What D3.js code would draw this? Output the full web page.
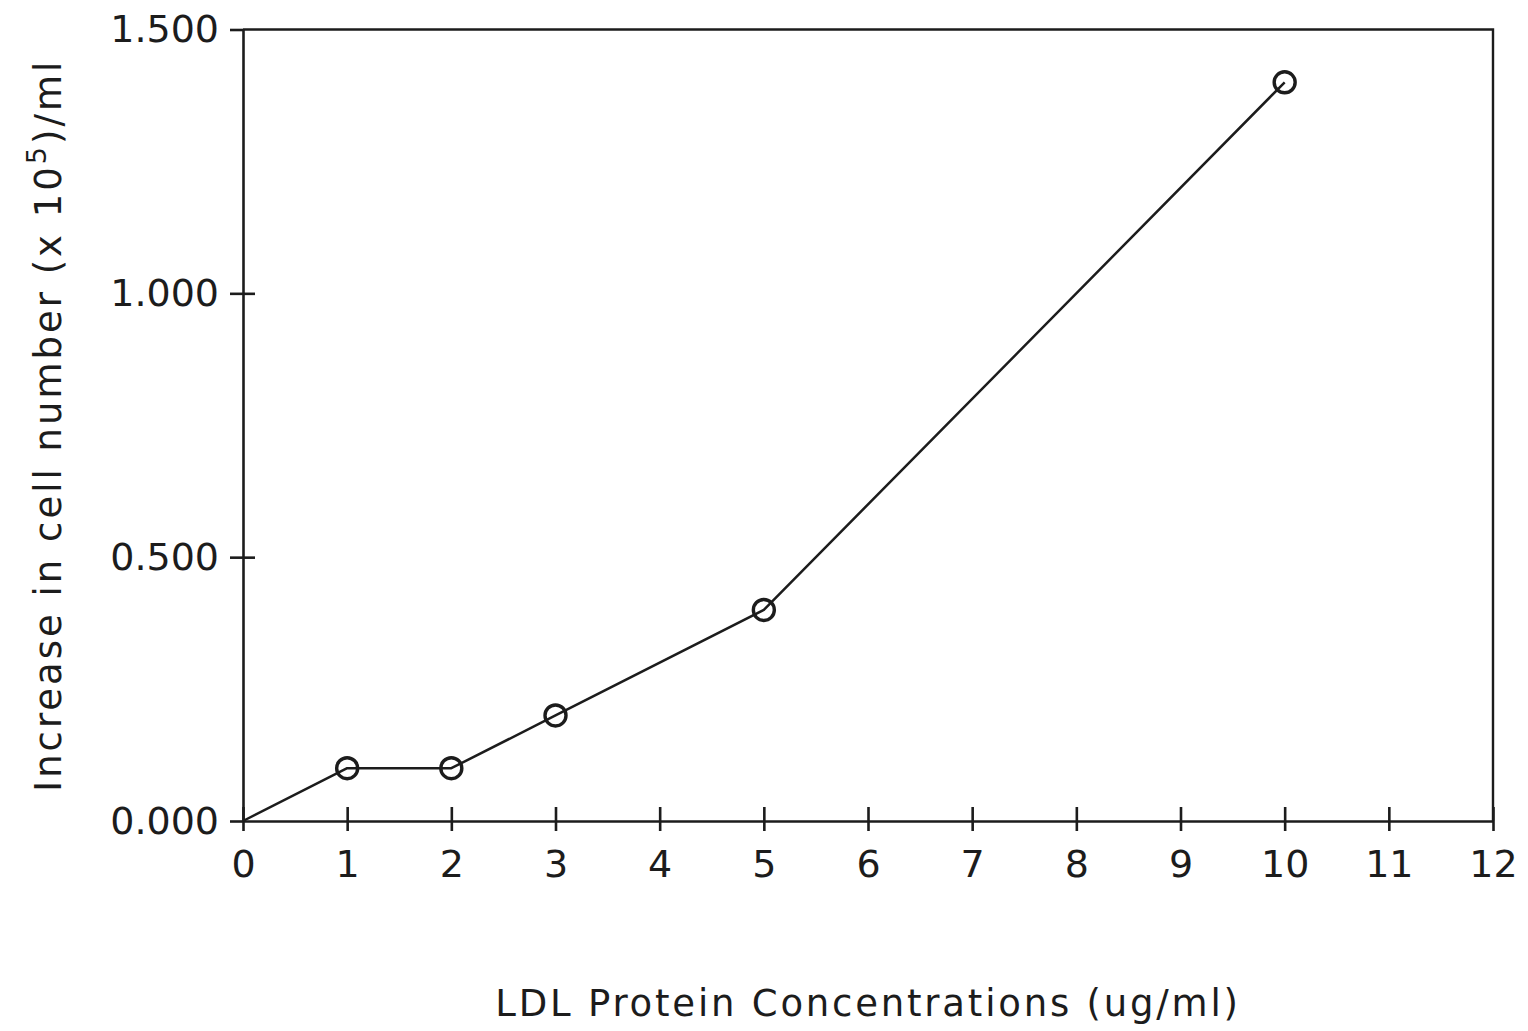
<!DOCTYPE html>
<html>
<head>
<meta charset="utf-8">
<script src="https://cdn.jsdelivr.net/npm/d3@7"></script>
<style>
  html, body { margin: 0; padding: 0; background: #fff; }
  svg { display: block; }
  text { font-family: "DejaVu Sans", sans-serif; fill: #1c1c1c; }
</style>
</head>
<body>
<script>
// LDL protein concentration (ug/ml) and the measured increase in cell number (x 10^5 per ml)
const concentrations = [0, 1, 2, 3, 5, 10];
const cellIncrease = [0, 0.10, 0.10, 0.20, 0.40, 1.40];
const xTickValues = [0, 1, 2, 3, 4, 5, 6, 7, 8, 9, 10, 11, 12];
const yTickValues = [0, 0.5, 1.0, 1.5];
const xTitle = "LDL Protein Concentrations (ug/ml)";

const W = 1528, H = 1031;
const margin = { left: 243, right: 35, top: 29.5, bottom: 210 };
const ink = "#1c1c1c";

const svg = d3.select("body").append("svg")
  .attr("width", W).attr("height", H);
svg.append("rect").attr("width", W).attr("height", H).attr("fill", "#fff");

const x = d3.scaleLinear().domain([0, 12]).range([margin.left, W - margin.right]);
const y = d3.scaleLinear().domain([0, 1.5]).range([H - margin.bottom, margin.top]);

const points = concentrations.map((c, i) => ({ x: c, y: cellIncrease[i] }));

// Frame: top and right edges of the plot box
svg.append("path")
  .attr("d", `M${x(0)},${y(1.5)}H${x(12)}V${y(0)}`)
  .attr("fill", "none").attr("stroke", ink).attr("stroke-width", 2.4);

// X axis: labels and downward ticks, plus short upward ticks
svg.append("g")
  .attr("transform", `translate(0,${y(0)})`)
  .call(d3.axisBottom(x).tickValues(xTickValues).tickFormat(d3.format("d"))
    .tickSizeInner(10).tickSizeOuter(0).tickPadding(19));
svg.append("g")
  .attr("transform", `translate(0,${y(0)})`)
  .call(d3.axisTop(x).tickValues(xTickValues).tickFormat("")
    .tickSizeInner(14).tickSizeOuter(0))
  .select(".domain").remove();

// Y axis: labels and outward ticks, plus short inward ticks
svg.append("g")
  .attr("transform", `translate(${x(0)},0)`)
  .call(d3.axisLeft(y).tickValues(yTickValues).tickFormat(d3.format(".3f"))
    .tickSizeInner(13).tickSizeOuter(0).tickPadding(11));
svg.append("g")
  .attr("transform", `translate(${x(0)},0)`)
  .call(d3.axisRight(y).tickValues(yTickValues.filter(v => v > 0 && v < 1.5)).tickFormat("")
    .tickSizeInner(12).tickSizeOuter(0))
  .select(".domain").remove();

svg.selectAll(".domain").attr("stroke", ink).attr("stroke-width", 2.6);
svg.selectAll(".tick line").attr("stroke", ink).attr("stroke-width", 2.6);
svg.selectAll(".tick text").attr("font-size", 38).attr("fill", ink)
  .attr("font-family", "'DejaVu Sans', sans-serif");

// Data line
svg.append("path")
  .datum(points)
  .attr("d", d3.line().x(d => x(d.x)).y(d => y(d.y)))
  .attr("fill", "none").attr("stroke", ink).attr("stroke-width", 2.5)
  .attr("stroke-linejoin", "round");

// Open circle markers on measured points (origin has none)
svg.append("g").selectAll("circle")
  .data(points.filter(d => d.x > 0))
  .join("circle")
  .attr("cx", d => x(d.x)).attr("cy", d => y(d.y)).attr("r", 10.5)
  .attr("fill", "none").attr("stroke", ink).attr("stroke-width", 3.4);

// Axis titles
svg.append("text")
  .attr("x", (x(0) + x(12)) / 2).attr("y", 1016)
  .attr("text-anchor", "middle").attr("font-size", 37)
  .attr("letter-spacing", 2.8)
  .text(xTitle);

const yTitle = svg.append("text")
  .attr("transform", `translate(61,${(y(0) + y(1.5)) / 2}) rotate(-90)`)
  .attr("text-anchor", "middle").attr("font-size", 37)
  .attr("letter-spacing", 3);
yTitle.append("tspan").text("Increase in cell number (x 10");
yTitle.append("tspan").attr("font-size", 27).attr("dy", -15).text("5");
yTitle.append("tspan").attr("dy", 15).text(")/ml");
</script>
</body>
</html>
